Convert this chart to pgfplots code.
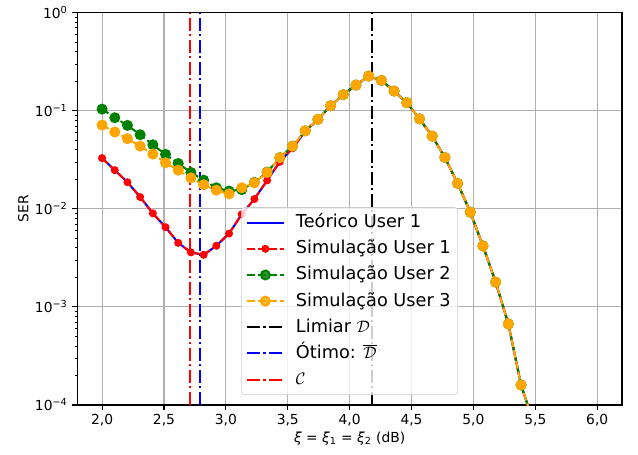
\documentclass[border=0pt]{standalone}
\usepackage{fontspec}
\setmainfont{DejaVu Sans}
\usepackage{pgfplots}
\pgfplotsset{compat=1.18}
\usepackage{pgfplotstable}

\pgfplotstableread{
x      th       u1       u2       u3
2.0000 0.0329   0.0329   0.104    0.0715
2.1026 0.0248   0.0248   0.085    0.0607
2.2051 0.0187   0.0187   0.071    0.0519
2.3077 0.0132   0.0132   0.057    0.0436
2.4103 0.0090   0.0090   0.045    0.0362
2.5128 0.0065   0.0065   0.0359   0.0295
2.6154 0.0045   0.0045   0.0290   0.0248
2.7179 0.0036   0.0036   0.0235   0.0207
2.8205 0.0034   0.0034   0.0196   0.0176
2.9231 0.0042   0.0042   0.0164   0.0155
3.0256 0.0056   0.0056   0.0152   0.0142
3.1282 0.0088   0.0088   0.0157   0.0164
3.2308 0.0126   0.0126   0.0186   0.0184
3.3333 0.0195   0.0195   0.0237   0.0235
3.4359 0.0302   0.0302   0.0333   0.0332
3.5385 0.0415   0.0415   0.0436   0.0436
3.6410 0.0615   0.0615   0.0625   0.0625
3.7436 0.0817   0.0817   0.0817   0.0817
3.8462 0.1125   0.1125   0.1125   0.1125
3.9487 0.146    0.146    0.146    0.146
4.0513 0.183    0.183    0.183    0.183
4.1538 0.226    0.226    0.226    0.226
4.2564 0.204    0.204    0.204    0.204
4.3590 0.159    0.159    0.159    0.159
4.4615 0.121    0.121    0.121    0.121
4.5641 0.0828   0.0828   0.0828   0.0828
4.6667 0.0552   0.0552   0.0552   0.0552
4.7692 0.0334   0.0334   0.0334   0.0334
4.8718 0.0182   0.0182   0.0182   0.0182
4.9744 0.00925  0.00925  0.00925  0.00925
5.0769 0.00419  0.00419  0.00419  0.00419
5.1795 0.00179  0.00179  0.00179  0.00179
5.2821 0.00067  0.00067  0.00067  0.00067
5.3846 0.00016  0.00016  0.00016  0.00016
5.4872 0.000065 0.000065 0.000065 0.000065
5.5897 0.000015 nan      nan      nan
5.6923 0.000002 nan      nan      nan
}\serdata

\begin{document}
\begin{tikzpicture}
\path[use as bounding box] (-0.773in,-0.5in) rectangle (5.607in,4.05in);
\begin{axis}[
  scale only axis,
  width=5.447in, height=3.923in,
  ymode=log,
  xmin=1.8, xmax=6.2,
  ymin=1e-4, ymax=1,
  xtick={2,2.5,3,3.5,4,4.5,5,5.5,6},
  ytick={1e-4,1e-3,1e-2,1e-1,1},
  yticklabels={10\textsuperscript{−4},10\textsuperscript{−3},10\textsuperscript{−2},10\textsuperscript{−1},10\textsuperscript{0}},
  minor ytick={2e-4,3e-4,4e-4,5e-4,6e-4,7e-4,8e-4,9e-4,
               2e-3,3e-3,4e-3,5e-3,6e-3,7e-3,8e-3,9e-3,
               2e-2,3e-2,4e-2,5e-2,6e-2,7e-2,8e-2,9e-2,
               0.2,0.3,0.4,0.5,0.6,0.7,0.8,0.9},
  xticklabel style={/pgf/number format/.cd, use comma, fixed, fixed zerofill, precision=1, assume math mode=true},
  tick label style={font=\fontsize{10}{12}\selectfont},
  tick align=outside,
  tick pos=left,
  major tick length=3.5pt,
  minor tick length=2pt,
  every tick/.style={black, line width=0.8pt},
  minor tick style={line width=0.6pt},
  axis line style={line width=0.8pt},
  grid=major,
  major grid style={color=black!31, line width=0.8pt},
  xlabel={{\itshape ξ} = {\itshape ξ}\textsubscript{1} = {\itshape ξ}\textsubscript{2} (dB)},
  ylabel={SER},
  label style={font=\fontsize{10}{12}\selectfont},
  every axis x label/.style={at={(axis description cs:0.5,-0.0943)}, anchor=base},
  every axis y label/.style={at={(axis description cs:-0.09,0.5)}, anchor=base, rotate=90},
  legend cell align=left,
  legend style={at={(axis description cs:0.5,0.0255)}, anchor=south,
    draw=black!20, fill=white, fill opacity=0.8, draw opacity=1, text opacity=1,
    rounded corners=2pt, font=\fontsize{12.8}{15}\selectfont,
    inner xsep=3pt, inner ysep=3pt, row sep=3pt, column sep=6pt,
    nodes={inner xsep=2pt, inner ysep=0pt, text height=11.5pt, text depth=4.4pt}},
  legend image code/.code={\draw[mark repeat=2, mark phase=2, #1] plot coordinates {(0cm,0cm) (0.47cm,0cm) (0.94cm,0cm)};},
]
\addplot[blue, line width=1.5pt, mark=none] table[x=x, y=th] {\serdata};
\addlegendentry{Teórico User 1}
\addplot[red, line width=1.5pt, dash pattern=on 5.55pt off 2.4pt, mark=*, mark size=2.1pt, mark options={solid}] table[x=x, y=u1] {\serdata};
\addlegendentry{Simulação User 1}
\addplot[color={rgb,1:red,0;green,0.5;blue,0}, line width=1.5pt, dash pattern=on 5.55pt off 2.4pt, mark=*, mark size=3.2pt, mark options={solid}] table[x=x, y=u2] {\serdata};
\addlegendentry{Simulação User 2}
\addplot[color={rgb,1:red,1;green,0.647;blue,0}, line width=1.5pt, dash pattern=on 5.55pt off 2.4pt, mark=*, mark size=3.2pt, mark options={solid}] table[x=x, y=u3] {\serdata};
\addlegendentry{Simulação User 3}
\addplot[black, line width=1.5pt, dash pattern=on 9.6pt off 2.4pt on 1.5pt off 2.4pt, mark=none] coordinates {(4.179,1e-4) (4.179,1)};
\addlegendentry{Limiar $\mathcal{D}$}
\addplot[blue, line width=1.5pt, dash pattern=on 9.6pt off 2.4pt on 1.5pt off 2.4pt, mark=none] coordinates {(2.790,1e-4) (2.790,1)};
\addlegendentry{Ótimo: $\overline{\mathcal{D}}$}
\addplot[red, line width=1.5pt, dash pattern=on 9.6pt off 2.4pt on 1.5pt off 2.4pt, mark=none] coordinates {(2.709,1e-4) (2.709,1)};
\addlegendentry{$\mathcal{C}$}
\end{axis}
\end{tikzpicture}
\end{document}
